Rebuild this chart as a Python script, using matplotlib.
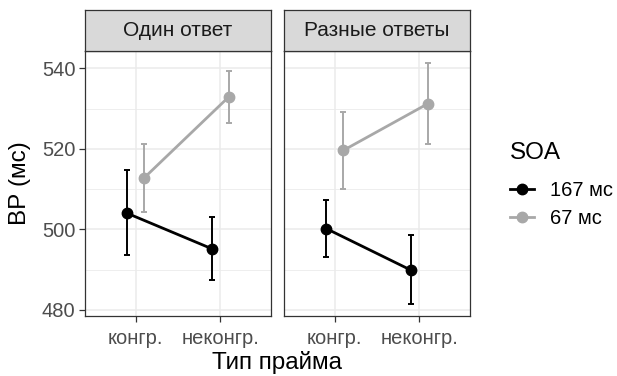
import matplotlib
matplotlib.use("Agg")
import matplotlib.pyplot as plt
from matplotlib.lines import Line2D
import numpy as np

plt.rcParams['font.family'] = ['Liberation Sans', 'DejaVu Sans']

# data
cats = ['конгр.', 'неконгр.']
panels = ['Один ответ', 'Разные ответы']
soa_labels = ['167 мс', '67 мс']
soa_colors = ['#000000', '#a8a8a8']

one_167 = [504.0, 495.2]
one_167_lo = [493.6, 487.4]
one_167_hi = [514.7, 503.2]
one_67 = [512.8, 532.9]
one_67_lo = [504.3, 526.5]
one_67_hi = [521.3, 539.3]

diff_167 = [500.2, 489.9]
diff_167_lo = [493.2, 481.5]
diff_167_hi = [507.3, 498.7]
diff_67 = [519.6, 531.2]
diff_67_lo = [510.0, 521.3]
diff_67_hi = [529.1, 541.4]

panel_data = [
    [(one_167, one_167_lo, one_167_hi), (one_67, one_67_lo, one_67_hi)],
    [(diff_167, diff_167_lo, diff_167_hi), (diff_67, diff_67_lo, diff_67_hi)],
]

W, H = 617, 376
fig = plt.figure(figsize=(W / 100, H / 100), dpi=100)

border = '#333333'
tick_col = '#4d4d4d'
dodge = [-0.1, 0.1]
small = 14.5
big = 17.5

panel_left = [85, 284]
panel_w = 186
top, bottom = 51, 316
strip_top = 10

for p in range(2):
    ax = fig.add_axes([panel_left[p] / W, 1 - bottom / H, panel_w / W, (bottom - top) / H])
    x = np.arange(1, len(cats) + 1)
    for s in range(2):
        m, lo, hi = panel_data[p][s]
        m = np.array(m)
        xs = x + dodge[s]
        ax.errorbar(xs, m, yerr=[m - np.array(lo), np.array(hi) - m], fmt='none',
                    ecolor=soa_colors[s], elinewidth=1.4, capsize=2, capthick=1.4, zorder=3)
        ax.plot(xs, m, '-o', color=soa_colors[s], lw=2.0, ms=7.5, zorder=4)
    ax.set_xlim(0.4, 2.6)
    ax.set_ylim(478.5, 544.3)
    ax.set_xticks(x)
    ax.set_xticklabels(cats)
    ax.set_yticks([480, 500, 520, 540])
    ax.set_yticks([490, 510, 530], minor=True)
    ax.grid(True, which='major', color='#ebebeb', lw=1.1, zorder=0)
    ax.grid(True, which='minor', axis='y', color='#ebebeb', lw=0.6, zorder=0)
    ax.set_axisbelow(True)
    for sp in ax.spines.values():
        sp.set_color(border)
        sp.set_linewidth(0.9)
    ax.tick_params(axis='both', which='major', length=4, width=0.9, color=border,
                   labelcolor=tick_col, labelsize=small, pad=3)
    ax.tick_params(axis='x', which='major', pad=5)
    ax.tick_params(axis='both', which='minor', length=0)
    if p == 1:
        ax.tick_params(axis='y', which='both', left=False, labelleft=False)

    # strip
    sax = fig.add_axes([panel_left[p] / W, 1 - top / H, panel_w / W, (top - strip_top) / H])
    sax.set_facecolor('#d9d9d9')
    sax.set_xticks([])
    sax.set_yticks([])
    for sp in sax.spines.values():
        sp.set_color(border)
        sp.set_linewidth(0.9)
    sax.text(0.5, 0.5, panels[p], ha='center', va='center', fontsize=15,
             color='#1a1a1a', transform=sax.transAxes)

fig.text(20 / W, 1 - 183.5 / H, 'ВР (мс)', rotation=90, ha='center', va='center',
         fontsize=big, color='black')
fig.text(277 / W, 1 - 362 / H, 'Тип прайма', ha='center', va='center',
         fontsize=big, color='black')

handles = [Line2D([0], [0], color=c, lw=2.0, marker='o', ms=7.5) for c in soa_colors]
leg = fig.legend(handles, soa_labels, title='SOA', loc='center left',
                 bbox_to_anchor=(492 / W, 1 - 185 / H), frameon=False,
                 fontsize=small, title_fontsize=big, handlelength=1.2,
                 handletextpad=0.8, labelspacing=0.45)
leg._legend_box.align = 'left'
leg._legend_box.sep = 12

fig.savefig('out.png', dpi=100)
